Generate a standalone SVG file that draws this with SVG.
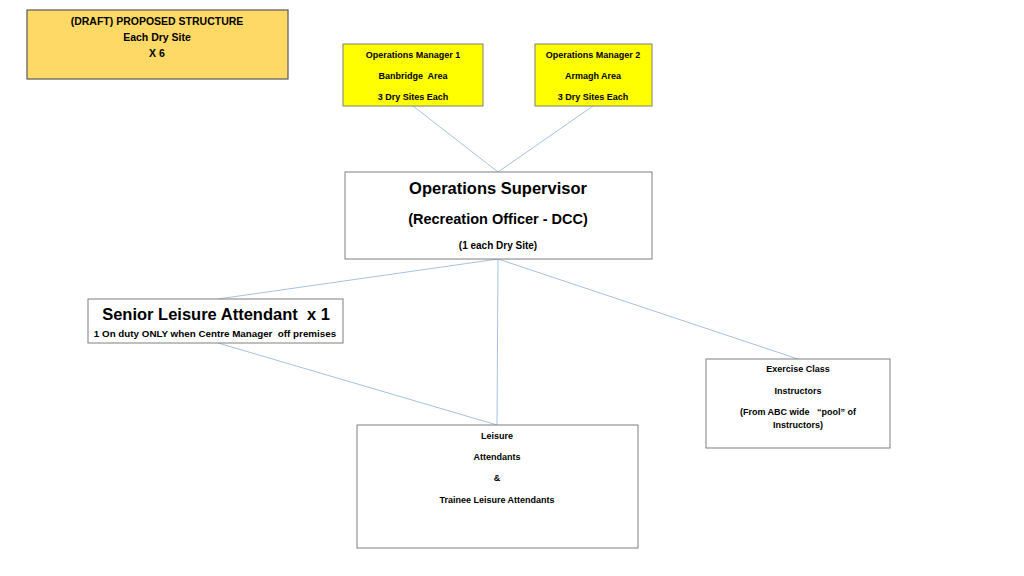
<svg xmlns="http://www.w3.org/2000/svg" width="1024" height="576" viewBox="0 0 1024 576">
<style>
text{font-family:"Liberation Sans",Arial,sans-serif;font-weight:bold;fill:#000;text-anchor:middle;dominant-baseline:central;white-space:pre}
.box{fill:#fff;stroke:#7f7f7f;stroke-width:1}
.yel{fill:#ffff00;stroke:#7f7f7f;stroke-width:1}
.draft{fill:#ffd966;stroke:#595959;stroke-width:1.2}
.s9{font-size:9px}
.s95{font-size:9.8px}
.s10{font-size:10px}
.s11{font-size:10.5px}
.s14{font-size:14.5px}
.s16{font-size:16.5px}
#connectors line{stroke:#8db3d9;stroke-width:0.8}
</style>
<rect width="1024" height="576" fill="#fff"/>
<g id="connectors">
<line x1="413" y1="106" x2="498" y2="172"/>
<line x1="593" y1="106" x2="498" y2="172"/>
<line x1="498" y1="259" x2="218" y2="299"/>
<line x1="498" y1="259" x2="497" y2="425"/>
<line x1="498" y1="259" x2="798" y2="359"/>
<line x1="218" y1="343" x2="497" y2="425"/>
</g>
<g id="draft">
<rect class="draft" x="27" y="10" width="261" height="69"/>
<text class="s11" x="157" y="21">(DRAFT) PROPOSED STRUCTURE</text>
<text class="s11" x="157" y="37">Each Dry Site</text>
<text class="s11" x="157" y="53">X 6</text>
</g>
<g id="om1">
<rect class="yel" x="343" y="44" width="140" height="62"/>
<text class="s9" x="413" y="55">Operations Manager 1</text>
<text class="s9" x="413" y="76">Banbridge  Area</text>
<text class="s9" x="413" y="97">3 Dry Sites Each</text>
</g>
<g id="om2">
<rect class="yel" x="535" y="44" width="117" height="62"/>
<text class="s9" x="593" y="55">Operations Manager 2</text>
<text class="s9" x="593" y="76">Armagh Area</text>
<text class="s9" x="593" y="97">3 Dry Sites Each</text>
</g>
<g id="supervisor">
<rect class="box" x="345" y="172" width="307" height="87"/>
<text class="s16" x="498" y="188">Operations Supervisor</text>
<text class="s14" x="498" y="219">(Recreation Officer - DCC)</text>
<text class="s10" x="498" y="245">(1 each Dry Site)</text>
</g>
<g id="senior">
<rect class="box" x="88" y="299" width="255" height="44"/>
<text class="s16" x="216" y="314">Senior Leisure Attendant  x 1</text>
<text class="s95" x="215" y="333">1 On duty ONLY when Centre Manager  off premises</text>
</g>
<g id="exercise">
<rect class="box" x="706" y="359" width="184" height="89"/>
<text class="s9" x="798" y="369">Exercise Class</text>
<text class="s9" x="798" y="391">Instructors</text>
<text class="s9" x="798" y="412">(From ABC wide   “pool” of</text>
<text class="s9" x="798" y="425">Instructors)</text>
</g>
<g id="leisure">
<rect class="box" x="357" y="425" width="281" height="123"/>
<text class="s9" x="497" y="436">Leisure</text>
<text class="s9" x="497" y="457">Attendants</text>
<text class="s9" x="497" y="478">&amp;</text>
<text class="s9" x="497" y="500">Trainee Leisure Attendants</text>
</g>
</svg>
